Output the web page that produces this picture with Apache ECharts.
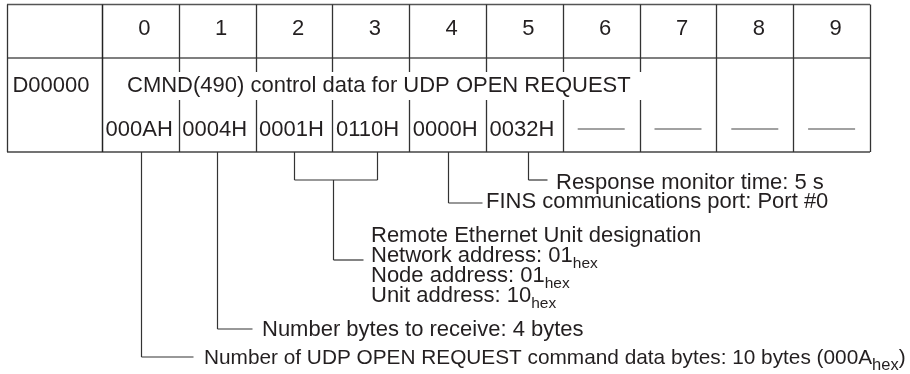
<!DOCTYPE html>
<html>
<head>
<meta charset="utf-8">
<script src="https://cdn.jsdelivr.net/npm/echarts@6/dist/echarts.min.js"></script>
<style>
  html, body { margin: 0; padding: 0; background: #ffffff; }
  #chart { width: 910px; height: 374px; }
</style>
</head>
<body>
<div id="chart"></div>
<script>
// ---------------- data ----------------
const columnLabels = ['0', '1', '2', '3', '4', '5', '6', '7', '8', '9'];
const rowLabel = 'D00000';
const titleText = 'CMND(490) control data for UDP OPEN REQUEST';
const titleSpanColumns = 7;                      // columns 0..6
const wordValues = ['000AH', '0004H', '0001H', '0110H', '0000H', '0032H', null, null, null, null];

// each annotation: target columns, text lines (segments: [text, isSubscript])
const annotationTargets = [[5], [4], [2, 3], [1], [0]];
const annotationLines = [
  [[['Response monitor time: 5 s', false]]],
  [[['FINS communications port: Port #0', false]]],
  [
    [['Remote Ethernet Unit designation', false]],
    [['Network address: 01', false], ['hex', true]],
    [['Node address: 01', false], ['hex', true]],
    [['Unit address: 10', false], ['hex', true]]
  ],
  [[['Number bytes to receive: 4 bytes', false]]],
  [[['Number of UDP OPEN REQUEST command data bytes: 10 bytes (000A', false], ['hex', true], [')', false]]]
];

// ---------------- layout (positions / styles) ----------------
const FONT = '"Liberation Sans", Arial, Helvetica, sans-serif';
const INK = '#231f20';
const LINE = '#333333';
const FS = 22, SUB_FS = 15.5;
const L = {
  labelColUnits: 95 / 76.8,
  tableTop: 4.5, headerBottom: 58, tableBottom: 152,
  headerY: 29, titleY: 85.5, valueY: 129.5, dashY: 129,
  gapTop: 72, gapBottom: 100,
  headerDx: 4, valueDx: 3.5, dashHalf: 23.5,
  rowLabelCenterPx: 51, titleStartPx: 127
};
// stem positions in column units; y values in px
const annotationLayout = [
  { stems: [5.547], elbowY: 180, elbowLen: 19, textGap: 8.5, textY: [183] },
  { stems: [4.505], elbowY: 203, elbowLen: 34, textGap: 3.5, textY: [202] },
  { stems: [2.5, 3.581], bracketY: 180, stem: 3.008, elbowY: 260, elbowLen: 30, textGap: 7.5, textY: [235.5, 255.5, 275.5, 295.5] },
  { stems: [1.497], elbowY: 329, elbowLen: 35, textGap: 9.5, textY: [330] },
  { stems: [0.508], elbowY: 357, elbowLen: 52, textGap: 10.5, textY: [358], fs: 20.8, subFs: 16.5, subDy: 7 }
];

const mctx = document.createElement('canvas').getContext('2d');
function measure(t, size) { mctx.font = size + 'px ' + FONT; return mctx.measureText(t).width; }

function line(x1, y1, x2, y2, w, c) {
  return { type: 'line', shape: { x1, y1, x2, y2 }, style: { stroke: c || LINE, lineWidth: w || 1.3 }, silent: true };
}
function text(x, y, t, opts) {
  opts = opts || {};
  return {
    type: 'text', silent: true,
    style: { x, y, text: t, fill: INK, font: (opts.size || FS) + 'px ' + FONT,
      textAlign: opts.align || 'left', textVerticalAlign: 'middle' }
  };
}
const r = v => Math.round(v) + 0.5;

const chart = echarts.init(document.getElementById('chart'), null, { renderer: 'canvas' });

const option = {
  animation: false,
  grid: { left: 7, right: 40, top: 0, bottom: 0 },
  xAxis: { type: 'value', min: -L.labelColUnits, max: columnLabels.length, show: false },
  yAxis: { type: 'value', min: 0, max: 374, inverse: true, show: false },
  series: [
    // table frame, row label and title
    {
      type: 'custom', coordinateSystem: 'cartesian2d', data: [[0, 0]],
      renderItem: function (params, api) {
        const x0 = api.coord([-L.labelColUnits, 0])[0];
        const xs = api.coord([0, 0])[0];
        const xe = api.coord([columnLabels.length, 0])[0];
        const yT = api.coord([0, L.tableTop])[1], yH = api.coord([0, L.headerBottom])[1], yB = api.coord([0, L.tableBottom])[1];
        const ch = [
          line(x0, yT, xe, yT, 1.3, '#555'),
          line(x0, yH, xe, yH, 1.3, '#555'),
          line(x0, yB, xe, yB, 1.3, '#444'),
          line(r(x0), yT, r(x0), yB, 1.3),
          line(r(xs), yT, r(xs), yB, 1.5, '#222'),
          text(L.rowLabelCenterPx, api.coord([0, L.titleY])[1], rowLabel, { align: 'center' }),
          text(L.titleStartPx, api.coord([0, L.titleY])[1], titleText)
        ];
        return { type: 'group', children: ch };
      }
    },
    // byte columns
    {
      type: 'custom', coordinateSystem: 'cartesian2d',
      data: columnLabels.map((c, i) => [i, 0]),
      renderItem: function (params, api) {
        const i = api.value(0);
        const xl = api.coord([i, 0])[0], xr = api.coord([i + 1, 0])[0], xc = (xl + xr) / 2;
        const yT = api.coord([0, L.tableTop])[1], yB = api.coord([0, L.tableBottom])[1];
        const ch = [text(xc + L.headerDx, api.coord([0, L.headerY])[1], columnLabels[i], { align: 'center' })];
        const xrp = r(xr);
        if (i + 1 <= titleSpanColumns) {
          ch.push(line(xrp, yT, xrp, api.coord([0, L.gapTop])[1]));
          ch.push(line(xrp, api.coord([0, L.gapBottom])[1], xrp, yB));
        } else {
          ch.push(line(xrp, yT, xrp, yB));
        }
        const v = wordValues[i];
        if (v) {
          ch.push(text(xl + L.valueDx, api.coord([0, L.valueY])[1], v));
        } else {
          const yd = api.coord([0, L.dashY])[1];
          ch.push(line(xc - L.dashHalf, yd, xc + L.dashHalf, yd, 1.2, '#444'));
        }
        return { type: 'group', children: ch };
      }
    },
    // annotations
    {
      type: 'custom', coordinateSystem: 'cartesian2d',
      data: annotationTargets.map((t, i) => [i, 0]),
      renderItem: function (params, api) {
        const k = api.value(0);
        const a = annotationLayout[k];
        const yB = api.coord([0, L.tableBottom])[1];
        const yE = api.coord([0, a.elbowY])[1];
        const ch = [];
        let sx;
        if (a.stems.length > 1) {
          const yb = api.coord([0, a.bracketY])[1];
          const xa = r(api.coord([a.stems[0], 0])[0]), xb = r(api.coord([a.stems[1], 0])[0]);
          ch.push(line(xa, yB, xa, yb, 1.2));
          ch.push(line(xb, yB, xb, yb, 1.2));
          ch.push(line(xa, yb, xb, yb, 1.2));
          sx = r(api.coord([a.stem, 0])[0]);
          ch.push(line(sx, yb, sx, yE, 1.2));
        } else {
          sx = r(api.coord([a.stems[0], 0])[0]);
          ch.push(line(sx, yB, sx, yE, 1.2));
        }
        const xEnd = sx + a.elbowLen;
        ch.push(line(sx, yE, xEnd, yE, 1.2));
        const tx = xEnd + a.textGap;
        const fs = a.fs || FS, sfs = a.subFs || SUB_FS, sdy = a.subDy || 8;
        annotationLines[k].forEach((segs, li) => {
          const y = api.coord([0, a.textY[li]])[1];
          let x = tx;
          segs.forEach(([t, sub]) => {
            const size = sub ? sfs : fs;
            ch.push(text(x, sub ? y + sdy : y, t, { size }));
            x += measure(t, size);
          });
        });
        return { type: 'group', children: ch };
      }
    }
  ]
};
chart.setOption(option);
</script>
</body>
</html>
